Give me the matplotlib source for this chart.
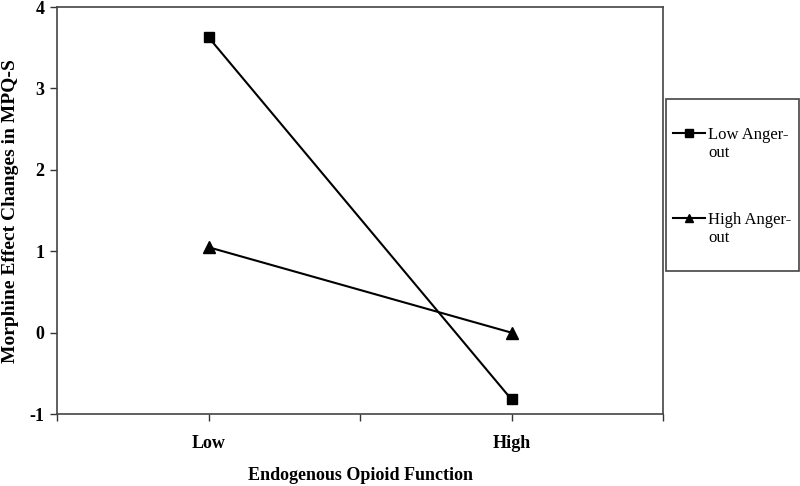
import numpy as np
import matplotlib.pyplot as plt
from matplotlib.patches import Rectangle

plt.rcParams['font.family'] = ['Liberation Serif', 'DejaVu Serif']

categories = ["Low", "High"]
low_anger = [3.63, -0.82]
high_anger = [1.05, 0.0]
series_names = ["Low Anger-", "High Anger-"]
name_tail = "out"
yticks = [-1, 0, 1, 2, 3, 4]

fig = plt.figure(figsize=(8, 4.86), dpi=100)
ax = fig.add_axes([0.07125, 0.148, 0.7575, 0.8374])

x = np.arange(len(categories))
l1, = ax.plot(x, low_anger, color='black', lw=1.5, marker='s', ms=7, label=series_names[0])
l2, = ax.plot(x, high_anger, color='black', lw=1.5, marker='^', ms=8, label=series_names[1])

ax.set_xlim(-0.5, 1.5)
ax.set_ylim(-1, 4)
ax.set_yticks(yticks)
ax.set_yticklabels([str(v) for v in yticks], fontsize=13, fontweight='bold')
ax.set_xticks([-0.5, 0, 0.5, 1, 1.5])
ax.set_xticklabels(["", categories[0], "", categories[1], ""], fontsize=13, fontweight='bold')
ax.tick_params(axis='both', direction='out', length=5, width=1, color='#333333')
ax.tick_params(axis='x', pad=10)
ax.tick_params(axis='y', pad=4)

for s in ax.spines.values():
    s.set_linewidth(1.2)
    s.set_color('#444444')

ax.set_xlabel("Endogenous Opioid Function", fontsize=13, fontweight='bold', labelpad=11)
ax.set_ylabel("Morphine Effect Changes in MPQ-S", fontsize=14, fontweight='bold', labelpad=8)

# legend box drawn by hand, entries wrap onto a second line
fig.patches.append(Rectangle((0.8325, 0.4424), 0.166, 0.354, transform=fig.transFigure,
                             fill=False, edgecolor='#444444', lw=1.2))
leg = fig.legend(handles=[l1, l2], loc='upper left', bbox_to_anchor=(673 / 800, 1 - 127 / 486),
                 frameon=False, fontsize=12, handlelength=1.9, handletextpad=0.2,
                 labelspacing=4.15, borderpad=0, borderaxespad=0)
for h in leg.legend_handles:
    h.set_markersize(6)
for ypx in (153, 238):
    fig.text(708 / 800, 1 - ypx / 486, name_tail, fontsize=12, va='center', ha='left')

fig.savefig("out.png", dpi=100)
